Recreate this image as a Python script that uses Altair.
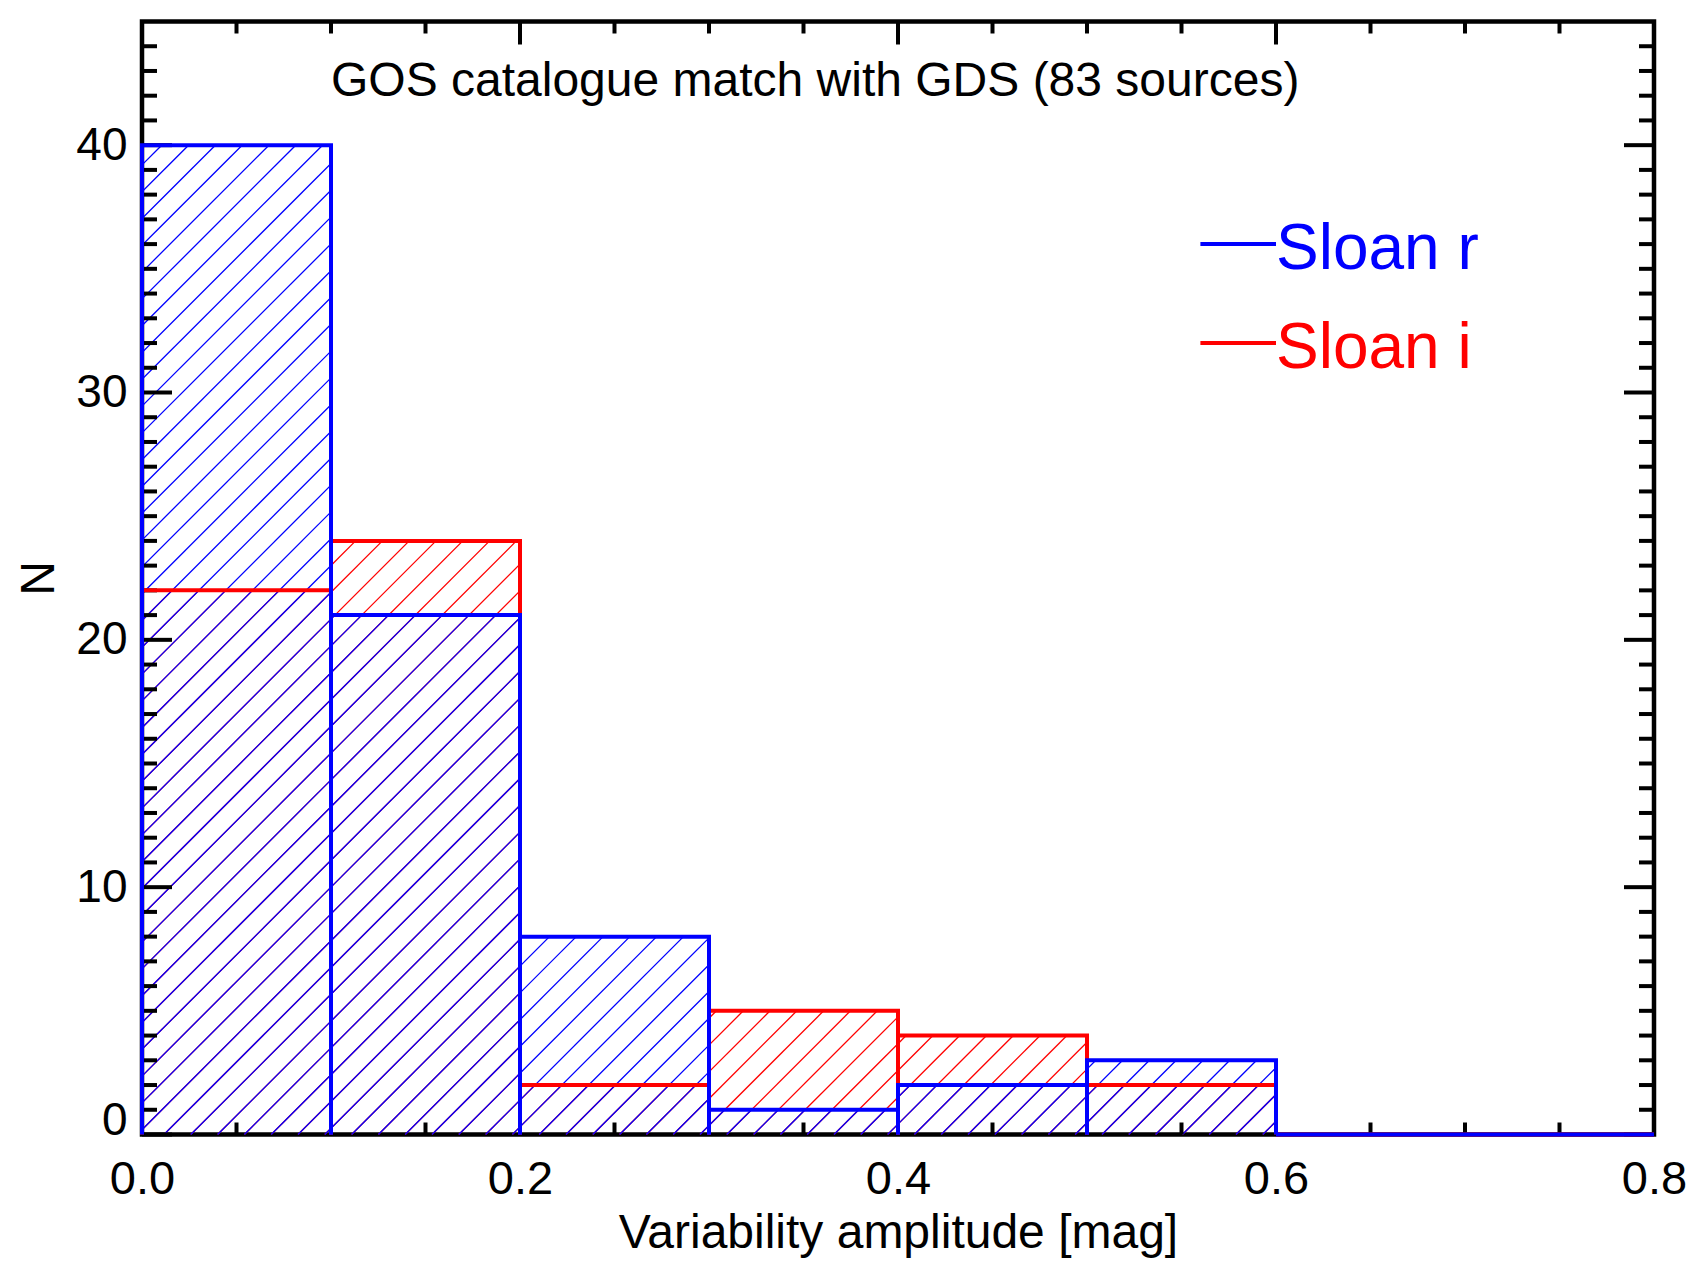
import altair as alt
import numpy as np
import pandas as pd

# ---------------- data ----------------
bin_edges = [0.0, 0.1, 0.2, 0.3, 0.4, 0.5, 0.6, 0.7, 0.8]
counts_sloan_r = [40, 21, 8, 1, 2, 3, 0, 0]   # blue histogram
counts_sloan_i = [22, 24, 2, 5, 4, 2, 0, 0]   # red histogram
series_names = ["Sloan r", "Sloan i"]
series_colors = ["#0000ff", "#ff0000"]

x_major = [0.0, 0.2, 0.4, 0.6, 0.8]
x_minor = [0.05, 0.1, 0.15, 0.25, 0.3, 0.35, 0.45, 0.5, 0.55, 0.65, 0.7, 0.75]
y_major = [0, 10, 20, 30, 40]
y_minor = [v for v in range(1, 45) if v % 10 != 0]

title_text = "GOS catalogue match with GDS (83 sources)"
x_title = "Variability amplitude [mag]"
y_title = "N"

# ---------------- layout / style constants ----------------
W, H = 1512, 1113
X_DOMAIN = [0.0, 0.8]
Y_DOMAIN = [0, 45]
FONT = "Liberation Sans"
TITLE_POS = (0.1, 42)            # data coords of the annotation
LEGEND_LINE_X = (0.56, 0.60)
LEGEND_LINE_Y = [36, 32]
LEGEND_TEXT_Y = [35, 31]
HATCH_SPACING = 26.8             # px, horizontal
HATCH_PHASE = 22.0               # px
SX = W / (X_DOMAIN[1] - X_DOMAIN[0])
SY = H / (Y_DOMAIN[1] - Y_DOMAIN[0])
TICK_W = 4

X_SC = alt.Scale(domain=X_DOMAIN, nice=False, zero=False)
Y_SC = alt.Scale(domain=Y_DOMAIN, nice=False, zero=False)
X_AX = alt.Axis(values=x_major, format=".1f", ticks=False, tickSize=0, domain=False,
                grid=False, labelFontSize=47, labelPadding=22, labelFlush=False,
                labelFont=FONT, labelColor="black", title=x_title, titleFont=FONT,
                titleFontSize=48, titleFontWeight="normal", titleColor="black",
                titleY=112.5, titleBaseline="alphabetic")
Y_AX = alt.Axis(values=y_major, format="d", ticks=False, tickSize=0, domain=False,
                grid=False, labelFontSize=46, labelPadding=15, labelFlush=True,
                labelFlushOffset=10, labelFont=FONT, labelColor="black",
                title=y_title, titleFont=FONT, titleFontSize=48,
                titleFontWeight="normal", titleColor="black", titleAngle=270,
                titleX=-89, titleY=H / 2, titleBaseline="alphabetic",
                titleAlign="center")


def X(f):
    return alt.X(f"{f}:Q", scale=X_SC, axis=X_AX)


def Y(f):
    return alt.Y(f"{f}:Q", scale=Y_SC, axis=Y_AX)


def outline_df(counts):
    rows = []
    for i, h in enumerate(counts):
        x0, x1 = bin_edges[i], bin_edges[i + 1]
        for o, (xx, yy) in enumerate([(x0, 0), (x0, h), (x1, h), (x1, 0)]):
            rows.append(dict(key=i, o=o, x=xx, y=yy))
    return pd.DataFrame(rows)


def hatch_df(counts):
    rows = []
    for i, h in enumerate(counts):
        if h <= 0:
            continue
        a, b = bin_edges[i] * SX, bin_edges[i + 1] * SX
        t = h * SY
        k0 = int(np.floor((a - t - HATCH_PHASE) / HATCH_SPACING)) - 1
        k1 = int(np.ceil((b - HATCH_PHASE) / HATCH_SPACING)) + 1
        for k in range(k0, k1 + 1):
            c = HATCH_PHASE + k * HATCH_SPACING
            lo = max(0.0, a - c)
            hi = min(t, b - c)
            if hi - lo > 0.5:
                rows.append(dict(x=(lo + c) / SX, y=lo / SY,
                                 x2=(hi + c) / SX, y2=hi / SY))
    return pd.DataFrame(rows)


def hatch_layer(counts, color):
    return alt.Chart(hatch_df(counts)).mark_rule(
        strokeWidth=1.3, color=color).encode(
        x=X("x"), x2=alt.X2("x2"), y=Y("y"), y2=alt.Y2("y2"))


def outline_layer(counts, color):
    return alt.Chart(outline_df(counts)).mark_line(
        strokeWidth=4, color=color, strokeJoin="miter", strokeCap="butt").encode(
        x=X("x"), y=Y("y"), detail="key:N", order="o:Q")


def xtick_layer(vals, length, top):
    df = pd.DataFrame({"v": vals})
    if top:
        yy, yy2 = alt.value(0), alt.value(length)
    else:
        yy, yy2 = alt.value(H), alt.value(H - length)
    return alt.Chart(df).mark_rule(strokeWidth=TICK_W, color="black").encode(
        x=X("v"), y=yy, y2=yy2)


def ytick_layer(vals, length, right):
    df = pd.DataFrame({"v": vals})
    if right:
        xx, xx2 = alt.value(W), alt.value(W - length)
    else:
        xx, xx2 = alt.value(0), alt.value(length)
    return alt.Chart(df).mark_rule(strokeWidth=TICK_W, color="black").encode(
        y=Y("v"), x=xx, x2=xx2)


ticks = [
    xtick_layer(x_major, 23, False), xtick_layer(x_minor, 12, False),
    xtick_layer(x_major, 23, True), xtick_layer(x_minor, 12, True),
    ytick_layer(y_major, 30, False), ytick_layer(y_minor, 15, False),
    ytick_layer(y_major, 30, True), ytick_layer(y_minor, 15, True),
]

title_layer = alt.Chart(pd.DataFrame({"x": [TITLE_POS[0]], "y": [TITLE_POS[1]],
                                      "t": [title_text]})).mark_text(
    align="left", baseline="alphabetic", fontSize=48, font=FONT, color="black"
).encode(x=X("x"), y=Y("y"), text="t:N")

legend_layers = []
for name, col, ly, ty in zip(series_names, series_colors, LEGEND_LINE_Y, LEGEND_TEXT_Y):
    ldf = pd.DataFrame({"x": [LEGEND_LINE_X[0]], "x2": [LEGEND_LINE_X[1]],
                        "y": [ly], "ty": [ty], "t": [name]})
    legend_layers.append(alt.Chart(ldf).mark_rule(strokeWidth=4, color=col).encode(
        x=X("x"), x2=alt.X2("x2"), y=Y("y")))
    legend_layers.append(alt.Chart(ldf).mark_text(
        align="left", baseline="alphabetic", fontSize=64, font=FONT, color=col
    ).encode(x=X("x2"), y=Y("ty"), text="t:N"))

chart = alt.layer(
    hatch_layer(counts_sloan_i, series_colors[1]),
    hatch_layer(counts_sloan_r, series_colors[0]),
    *ticks,
    outline_layer(counts_sloan_i, series_colors[1]),
    outline_layer(counts_sloan_r, series_colors[0]),
    title_layer,
    *legend_layers,
).properties(
    width=W, height=H,
    padding={"left": 134, "top": 13.5, "right": 34, "bottom": 134},
    autosize=alt.AutoSizeParams(type="none"),
    background="white",
).configure_view(stroke="black", strokeWidth=4.5)

chart.save("out.html", embed_options={"renderer": "svg", "actions": False})
